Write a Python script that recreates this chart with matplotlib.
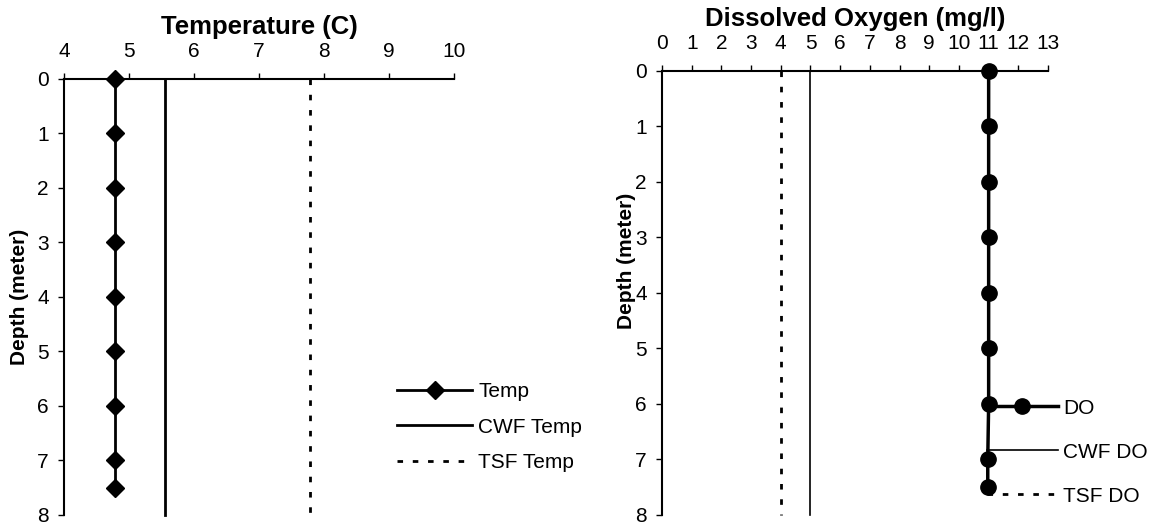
import matplotlib
matplotlib.use("Agg")
import matplotlib.pyplot as plt

plt.rcParams.update({'font.family': ['Liberation Sans', 'DejaVu Sans'], 'font.size': 13})

depth = [0, 1, 2, 3, 4, 5, 6, 7, 7.5]
temp = [4.78, 4.78, 4.78, 4.78, 4.78, 4.78, 4.78, 4.78, 4.78]
do = [11.0, 11.0, 11.0, 11.0, 11.0, 11.0, 11.0, 10.97, 10.97]

std_depth = [0, 8]
cwf_temp = [5.55, 5.55]
tsf_temp = [7.78, 7.78]
cwf_do = [5.0, 5.0]
tsf_do = [4.0, 4.0]

temp_ticks = [4, 5, 6, 7, 8, 9, 10]
do_ticks = list(range(0, 14))
depth_ticks = list(range(0, 9))

fig = plt.figure(figsize=(11.56, 5.26), dpi=100)
ax1 = fig.add_axes([0.0554, 0.021, 0.3374, 0.8290])
ax2 = fig.add_axes([0.5727, 0.021, 0.3339, 0.8441])

dots = (0, (2, 3.5))


def style_axes(ax, xlim, xticks, title):
    ax.set_xlim(*xlim)
    ax.set_ylim(8, 0)
    ax.set_xticks(xticks)
    ax.set_yticks(depth_ticks)
    ax.xaxis.tick_top()
    ax.xaxis.set_label_position('top')
    ax.spines['bottom'].set_visible(False)
    ax.spines['right'].set_visible(False)
    ax.spines['top'].set_linewidth(1.5)
    ax.spines['left'].set_linewidth(1.5)
    ax.tick_params(axis='x', direction='out', length=4, width=1, pad=9, labelsize=15)
    ax.tick_params(axis='y', direction='out', length=4, width=1, pad=7, labelsize=15)
    ax.set_xlabel(title, fontsize=18.5, fontweight='bold', labelpad=6)
    ax.set_ylabel('Depth (meter)', fontsize=15, fontweight='bold')


# temperature
style_axes(ax1, (4, 10), temp_ticks, 'Temperature (C)')
ax1.plot(temp, depth, color='black', lw=2, marker='D', ms=9.5, label='Temp', clip_on=False)
ax1.plot(cwf_temp, std_depth, color='black', lw=2, label='CWF Temp', clip_on=False)
ax1.plot(tsf_temp, std_depth, color='black', lw=2, ls=dots, label='TSF Temp', clip_on=False)
ax1.yaxis.set_label_coords(-0.09, 0.5)
ax1.legend(loc='upper left', bbox_to_anchor=(0.854, 0.305), frameon=False,
           borderpad=0, borderaxespad=0, handlelength=3.6, handletextpad=0.3,
           labelspacing=0.8, fontsize=15)

# dissolved oxygen
style_axes(ax2, (0, 13), do_ticks, 'Dissolved Oxygen (mg/l)')
ax2.plot(do, depth, color='black', lw=2.5, marker='o', ms=11, label='DO', clip_on=False)
ax2.plot(cwf_do, std_depth, color='black', lw=1.2, label='CWF DO', clip_on=False)
ax2.plot(tsf_do, std_depth, color='black', lw=2, ls=dots, label='TSF DO', clip_on=False)
ax2.yaxis.set_label_coords(-0.067, 0.573)
ax2.legend(loc='upper left', bbox_to_anchor=(0.842, 0.262), frameon=False,
           borderpad=0, borderaxespad=0, handlelength=3.4, handletextpad=0.25,
           labelspacing=1.2, fontsize=15)

fig.savefig('out.png', dpi=100)
